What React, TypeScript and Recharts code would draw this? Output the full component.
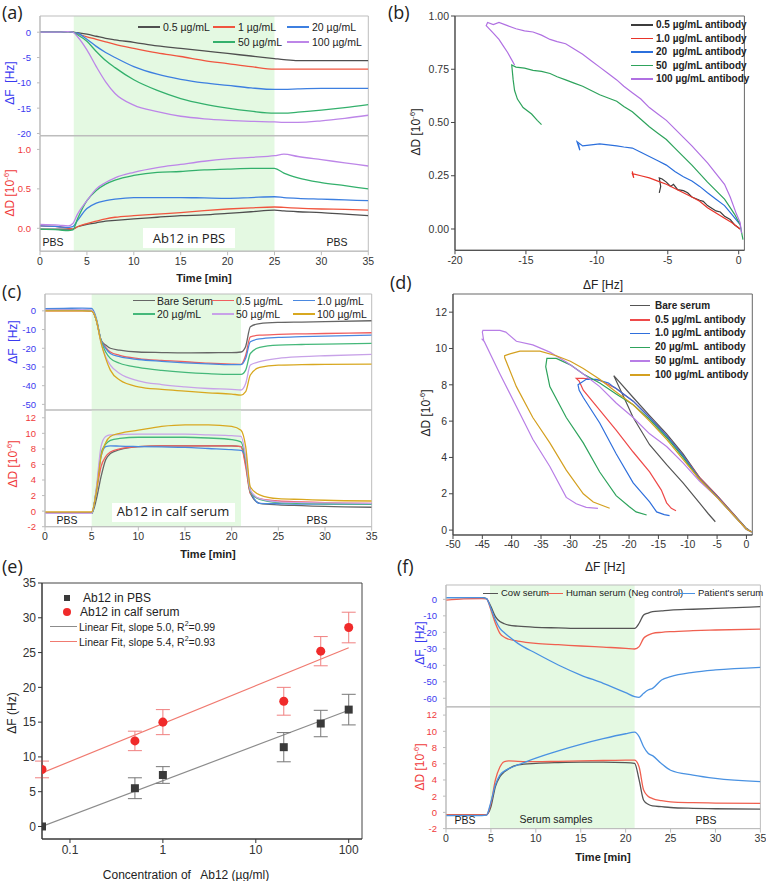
import React from 'react';
import {
  LineChart, Line, XAxis, YAxis, ReferenceArea, ComposedChart, Scatter, ErrorBar, ZAxis,
} from 'recharts';

const FONT = '"Liberation Sans", Arial, Helvetica, sans-serif';
const FRAME = '#bdbdbd';
const SHADE = '#e4f9e2';
const F_BLUE = '#3a3af0';
const D_RED = '#f03a3a';
const PAD = 8;

// ---------- (a) Ab12 in PBS ----------
const timeA = [0, 2, 3, 3.5, 4, 5, 6, 7, 8, 10, 12.5, 15, 17.5, 20, 22.5, 25, 26, 27.5, 30, 32.5, 35];
const dfA05 = [0, 0, 0.1, 0, -0.1, -0.4, -0.8, -1.2, -1.5, -2.0, -2.7, -3.2, -3.7, -4.2, -4.7, -5.2, -5.4, -5.6, -5.6, -5.6, -5.6];
const dfA1 = [0, 0, 0.1, 0, -0.3, -0.9, -1.4, -1.9, -2.4, -3.2, -4.1, -4.8, -5.6, -6.2, -6.8, -7.3, -7.3, -7.3, -7.3, -7.3, -7.3];
const dfA20 = [0, 0, 0.1, 0, -0.2, -1.4, -2.8, -4.0, -5.0, -6.8, -8.3, -9.3, -10.0, -10.5, -11.0, -11.3, -11.3, -11.2, -11.1, -11.1, -11.1];
const dfA50 = [0, 0, 0.1, 0, -0.5, -1.8, -3.8, -5.6, -7.0, -9.4, -11.5, -13.1, -14.2, -15.0, -15.6, -16.0, -16.0, -15.8, -15.4, -14.9, -14.3];
const dfA100 = [0, 0, 0.1, 0, -0.9, -3.5, -6.8, -9.8, -12.1, -14.4, -15.7, -16.6, -17.1, -17.4, -17.6, -17.7, -17.8, -17.8, -17.5, -17.0, -16.4];
const ddA05 = [-0.01, -0.01, -0.01, -0.01, 0.02, 0.05, 0.07, 0.09, 0.1, 0.12, 0.14, 0.16, 0.17, 0.19, 0.21, 0.23, 0.22, 0.21, 0.2, 0.18, 0.16];
const ddA1 = [0.03, 0.02, 0.0, -0.01, 0.02, 0.06, 0.09, 0.12, 0.14, 0.16, 0.18, 0.2, 0.225, 0.245, 0.26, 0.27, 0.265, 0.255, 0.245, 0.24, 0.23];
const ddA20 = [0.03, 0.02, 0.01, 0.02, 0.1, 0.25, 0.32, 0.35, 0.37, 0.39, 0.39, 0.39, 0.385, 0.38, 0.39, 0.4, 0.39, 0.38, 0.37, 0.36, 0.35];
const ddA50 = [-0.01, -0.02, -0.03, -0.02, 0.12, 0.35, 0.48, 0.56, 0.61, 0.67, 0.71, 0.72, 0.74, 0.75, 0.76, 0.76, 0.7, 0.64, 0.58, 0.54, 0.5];
const ddA100 = [0.05, 0.04, 0.03, 0.06, 0.18, 0.35, 0.5, 0.58, 0.64, 0.71, 0.77, 0.81, 0.85, 0.88, 0.9, 0.92, 0.94, 0.91, 0.87, 0.83, 0.79];

// ---------- (b) dD vs dF, PBS ----------
const b05 = [[0.1, 0], [-0.3, 0.02], [-0.6, 0.045], [-1.0, 0.06], [-1.3, 0.08], [-1.6, 0.085], [-2.2, 0.11], [-2.5, 0.13], [-2.75, 0.135], [-3.3, 0.15], [-3.6, 0.17], [-3.9, 0.18], [-4.3, 0.185], [-4.6, 0.21], [-4.8, 0.2], [-5.1, 0.22], [-5.4, 0.235], [-5.6, 0.24], [-5.5, 0.2], [-5.6, 0.17]];
const b1 = [[0.1, 0], [-0.5, 0.03], [-1.0, 0.05], [-1.6, 0.075], [-2.2, 0.1], [-2.75, 0.13], [-3.3, 0.15], [-3.9, 0.17], [-4.5, 0.19], [-5.1, 0.21], [-5.7, 0.225], [-6.3, 0.24], [-6.9, 0.25], [-7.5, 0.26], [-7.4, 0.24], [-7.5, 0.27]];
const b20 = [[0.1, 0.02], [-0.5, 0.07], [-1.0, 0.11], [-1.6, 0.14], [-2.2, 0.17], [-2.75, 0.2], [-3.3, 0.225], [-3.9, 0.245], [-4.5, 0.27], [-5.1, 0.3], [-5.7, 0.32], [-6.3, 0.34], [-6.9, 0.36], [-7.5, 0.38], [-8.1, 0.385], [-8.6, 0.39], [-9.2, 0.395], [-9.8, 0.4], [-10.4, 0.395], [-11.0, 0.39], [-11.4, 0.41], [-11.2, 0.37], [-11.3, 0.4]];
const b50 = [[0.3, -0.05], [0.1, 0.02], [-0.3, 0.07], [-0.6, 0.1], [-1.0, 0.14], [-1.6, 0.18], [-2.2, 0.22], [-2.75, 0.26], [-3.3, 0.3], [-3.9, 0.34], [-4.5, 0.38], [-5.1, 0.42], [-5.7, 0.45], [-6.3, 0.48], [-6.9, 0.515], [-7.5, 0.55], [-8.1, 0.575], [-8.6, 0.6], [-9.2, 0.615], [-9.8, 0.63], [-10.4, 0.65], [-11, 0.67], [-11.6, 0.685], [-12.2, 0.7], [-12.8, 0.715], [-13.3, 0.73], [-13.9, 0.74], [-14.5, 0.745], [-15.1, 0.755], [-15.7, 0.76], [-16.0, 0.77], [-15.9, 0.7], [-15.8, 0.65], [-15.6, 0.61], [-15.2, 0.57], [-14.6, 0.54], [-14.2, 0.51], [-13.9, 0.49]];
const b100 = [[0.2, -0.02], [0.1, 0.03], [-0.16, 0.07], [-0.6, 0.15], [-1.0, 0.21], [-1.6, 0.26], [-2.2, 0.31], [-2.75, 0.35], [-3.3, 0.39], [-3.9, 0.43], [-4.5, 0.47], [-5.1, 0.51], [-5.7, 0.54], [-6.3, 0.57], [-6.9, 0.61], [-7.5, 0.64], [-8.1, 0.67], [-8.6, 0.7], [-9.2, 0.73], [-9.8, 0.76], [-10.4, 0.79], [-11, 0.82], [-11.6, 0.845], [-12.2, 0.87], [-12.8, 0.88], [-13.3, 0.89], [-13.9, 0.91], [-14.5, 0.925], [-15.1, 0.93], [-15.7, 0.94], [-16.3, 0.955], [-16.9, 0.97], [-17.3, 0.96], [-17.7, 0.97], [-17.8, 0.955], [-17.3, 0.92], [-16.9, 0.89], [-16.6, 0.86], [-16.3, 0.83], [-16.05, 0.8], [-15.8, 0.77]];

// ---------- (c) Ab12 in calf serum ----------
const timeC = [0, 2, 4, 5, 5.5, 6, 6.5, 7, 8, 10, 12.5, 15, 17.5, 20, 21, 21.5, 22, 23, 25, 27.5, 30, 35];
const dfCbare = [0.5, 0.5, 0.5, 0.3, -5, -15.6, -18.3, -20, -21, -22, -22.3, -22.5, -22.4, -22.3, -22, -19, -8.5, -6.8, -6.2, -6, -5.8, -5.3];
const dfC05 = [0, 0, 0, -0.2, -5, -15.6, -19.5, -22, -23.8, -25.5, -26.5, -27.2, -28, -28.5, -28.6, -23.7, -13.9, -13, -12.6, -12.3, -12.1, -11.7];
const dfC1 = [1.2, 1.3, 1.5, 1.3, -4, -15.6, -20, -22.8, -24.5, -26, -27, -27.8, -28.4, -28.8, -28.8, -25.4, -16.5, -15, -14.2, -13.8, -13.5, -13];
const dfC20 = [0.3, 0.3, 0.3, 0.1, -5, -16, -22, -25.4, -28, -30.2, -31.8, -32.9, -33.6, -34, -34, -31.7, -22.8, -19.5, -18.3, -18, -17.8, -17.4];
const dfC50 = [0.5, 0.5, 0.6, 0.4, -5, -17, -24.6, -29, -33.5, -37.4, -39.4, -40.6, -41.5, -42, -42.3, -38.8, -29, -27.2, -25.4, -24.5, -24, -23.3];
const dfC100 = [0, 0, 0, -0.2, -5, -17, -25.4, -31.7, -37, -40.6, -42, -42.9, -43.8, -44.5, -45, -43.2, -34.3, -30.2, -29, -28.8, -28.6, -28.5];
const ddCbare = [-0.3, -0.3, -0.3, -0.3, 1.5, 4.4, 6.6, 7.4, 7.9, 8.3, 8.4, 8.4, 8.4, 8.4, 8.3, 6.1, 2.3, 1.0, 0.8, 0.7, 0.6, 0.5];
const ddC05 = [-0.2, -0.2, -0.2, -0.2, 2.5, 5.7, 7.0, 7.6, 8.0, 8.3, 8.4, 8.4, 8.4, 8.4, 8.3, 5.7, 2.3, 1.6, 1.3, 1.2, 1.1, 1.0];
const ddC1 = [-0.3, -0.3, -0.3, -0.3, 2.7, 7.0, 8.3, 8.4, 8.35, 8.3, 8.25, 8.2, 8.05, 7.9, 7.8, 7.0, 2.7, 1.0, 0.95, 0.9, 0.9, 0.9];
const ddC20 = [-0.3, -0.3, -0.3, -0.3, 2.7, 7.4, 8.6, 9.1, 9.35, 9.5, 9.5, 9.5, 9.4, 9.2, 8.9, 6.6, 2.5, 1.5, 1.1, 1.0, 0.95, 0.9];
const ddC50 = [-0.3, -0.3, -0.3, -0.3, 3.0, 8.3, 9.6, 9.8, 9.85, 9.9, 9.9, 9.9, 9.8, 9.7, 9.6, 7.0, 2.7, 1.6, 1.2, 1.1, 1.05, 1.0];
const ddC100 = [-0.1, -0.1, -0.1, -0.1, 2.5, 7.0, 8.8, 9.6, 10.0, 10.4, 10.9, 11.1, 11.1, 10.9, 10.4, 8.3, 3.1, 2.1, 1.6, 1.5, 1.4, 1.3];

// ---------- (d) dD vs dF, calf serum ----------
const dBare = [[0.9, -0.1], [0, 0.1], [-5, 1.9], [-8, 2.9], [-10.8, 4.2], [-13.6, 5.3], [-16.5, 6.3], [-19.3, 7.3], [-22.6, 8.5], [-21, 7.4], [-19.3, 6.2], [-16.5, 4.7], [-13.6, 3.6], [-10.8, 2.6], [-8, 1.5], [-6.5, 0.9], [-5.3, 0.46]];
const d05 = [[0.9, -0.1], [0, 0.05], [-5, 1.9], [-8, 2.9], [-10.8, 4.1], [-13.6, 5.2], [-16.5, 6.2], [-19.3, 7.1], [-22.2, 7.8], [-25, 8.25], [-27.8, 8.35], [-29, 8.35], [-28.5, 8.2], [-27.8, 7.7], [-25, 6.6], [-22.2, 5.5], [-19.3, 4.3], [-16.5, 3.2], [-14.5, 2.2], [-13.6, 1.5], [-12.8, 1.2], [-12, 1.06]];
const d1 = [[0.9, -0.1], [0, 0.05], [-5, 1.85], [-8, 2.85], [-10.8, 4.1], [-13.6, 5.2], [-16.5, 6.2], [-19.3, 7.1], [-22.2, 7.8], [-22.7, 7.9], [-23.5, 8.1], [-25.6, 8.3], [-27.3, 8.3], [-28.7, 8.0], [-28.5, 7.7], [-27.8, 7.3], [-25, 5.9], [-22.2, 4.2], [-19.3, 2.6], [-16.5, 1.55], [-15.3, 1.0], [-14, 0.85], [-13.1, 0.8]];
const d20 = [[0.9, -0.1], [0, 0.05], [-5, 1.8], [-8, 2.8], [-10.8, 4.0], [-13.6, 5.1], [-16.5, 6.1], [-19.3, 6.9], [-22.2, 7.5], [-25, 8.1], [-27.8, 8.6], [-30, 9.1], [-32.4, 9.45], [-34, 9.45], [-34.2, 9.0], [-33.5, 7.9], [-30.7, 6.2], [-27.8, 4.8], [-25, 3.2], [-22.2, 1.9], [-20, 1.3], [-18.8, 1.0], [-17, 0.83]];
const d50 = [[0.9, -0.1], [0, 0.05], [-5, 1.8], [-8, 2.7], [-10.8, 3.7], [-13.6, 4.6], [-16.5, 5.3], [-19.3, 6.2], [-22.2, 7.0], [-25, 7.9], [-27.8, 8.6], [-30.7, 9.25], [-33.5, 9.8], [-36.4, 10.2], [-39.2, 10.4], [-41, 10.9], [-42, 11.0], [-44.9, 11.0], [-45, 10.9], [-44.8, 10.5], [-45, 10.5], [-44.7, 10.4], [-42, 8.6], [-39.2, 6.8], [-36.4, 5.0], [-33.5, 3.5], [-30.7, 1.8], [-29, 1.45], [-27.3, 1.25], [-25.3, 1.2]];
const d100 = [[0.9, -0.1], [0, 0.05], [-5, 1.8], [-8, 2.8], [-10.8, 3.9], [-13.6, 5.0], [-16.5, 6.0], [-19.3, 6.9], [-22.2, 7.6], [-25, 8.3], [-27.8, 8.9], [-30, 9.3], [-32.4, 9.6], [-35.2, 9.85], [-38.6, 9.85], [-40.3, 9.7], [-40.8, 9.65], [-41.2, 9.6], [-41.2, 9.5], [-39.2, 7.9], [-36.4, 6.2], [-33.5, 4.8], [-30.7, 3.3], [-27.8, 2.0], [-26.1, 1.55], [-23.3, 1.2]];

// ---------- (e) calibration ----------
const concE = [0.05, 0.5, 1, 20, 50, 100];
const pbsE = [0, 5.5, 7.4, 11.4, 14.8, 16.8];
const pbsErrE = [0, 1.5, 1.2, 2.1, 1.9, 2.2];
const serumE = [8.2, 12.3, 15.0, 18.0, 25.2, 28.6];
const serumErrE = [1.2, 1.4, 1.8, 2.0, 2.1, 2.2];
const fitConc = [0.05, 100];
const fitPbs = [0, 16.7];
const fitSerum = [7.7, 25.7];

// ---------- (f) serum samples ----------
const timeF = [0, 2, 4, 4.5, 5, 5.5, 6, 6.5, 7, 8, 10, 12.5, 15, 17.5, 20, 21, 21.5, 22, 22.5, 23, 24, 25, 27.5, 30, 35];
const dfFcow = [1, 1, 1, 0.5, -4.4, -10.5, -13.5, -14.8, -15.6, -16.3, -17, -17.3, -17.6, -17.6, -17.6, -17.6, -14.5, -9.5, -8.3, -7.5, -7, -6.5, -6, -5.5, -4.4];
const dfFhuman = [-0.5, 0.3, 0.5, 0.3, -6.5, -14.5, -20.6, -23, -24.2, -25.3, -26.7, -27.5, -28.3, -29, -29.7, -30.1, -28.7, -23.6, -21.7, -20.6, -20, -19.6, -19, -18.6, -18];
const dfFpatient = [1, 1, 1, 0.5, -5.5, -12.5, -17.6, -20.3, -22.6, -26.7, -32.7, -39.8, -45.9, -50.9, -56.6, -59, -59.4, -57, -55, -54, -48.9, -46.9, -44.3, -42.8, -41.2];
const ddFcow = [-0.3, -0.3, -0.3, -0.3, 0.7, 3.2, 4.4, 5.0, 5.4, 5.85, 6.05, 6.15, 6.2, 6.2, 6.15, 6.05, 4.0, 1.5, 1.0, 0.8, 0.7, 0.6, 0.5, 0.45, 0.4];
const ddFhuman = [-0.3, -0.3, -0.3, -0.3, 1.1, 4.0, 5.6, 6.25, 6.35, 6.3, 6.25, 6.3, 6.35, 6.4, 6.45, 6.45, 5.6, 2.75, 2.0, 1.7, 1.45, 1.3, 1.2, 1.15, 1.1];
const ddFpatient = [-0.4, -0.4, -0.4, -0.35, 1.3, 3.4, 4.6, 5.1, 5.4, 5.85, 6.7, 7.6, 8.4, 9.1, 9.7, 9.9, 9.35, 8.1, 7.3, 7.0, 6.0, 5.2, 4.6, 4.2, 3.8];

const timeTicks = [0, 5, 10, 15, 20, 25, 30, 35];

type Ser = { key: string; color: string; name: string; df: number[]; dd: number[] };

const seriesA: Ser[] = [
  { key: 's05', name: '0.5 µg/mL', color: '#4f4f4f', df: dfA05, dd: ddA05 },
  { key: 's1', name: '1 µg/mL', color: '#f0553f', df: dfA1, dd: ddA1 },
  { key: 's20', name: '20 µg/mL', color: '#3d7fe0', df: dfA20, dd: ddA20 },
  { key: 's50', name: '50 µg/mL', color: '#33b06c', df: dfA50, dd: ddA50 },
  { key: 's100', name: '100 µg/mL', color: '#bd86e8', df: dfA100, dd: ddA100 },
];
const seriesC: Ser[] = [
  { key: 'bare', name: 'Bare Serum', color: '#666666', df: dfCbare, dd: ddCbare },
  { key: 'c05', name: '0.5 µg/mL', color: '#f05f5f', df: dfC05, dd: ddC05 },
  { key: 'c1', name: '1.0 µg/mL', color: '#4a88e0', df: dfC1, dd: ddC1 },
  { key: 'c20', name: '20 µg/mL', color: '#45b87a', df: dfC20, dd: ddC20 },
  { key: 'c50', name: '50 µg/mL', color: '#c8a2e8', df: dfC50, dd: ddC50 },
  { key: 'c100', name: '100 µg/mL', color: '#d8a820', df: dfC100, dd: ddC100 },
];
const seriesF: Ser[] = [
  { key: 'cow', name: 'Cow serum', color: '#555555', df: dfFcow, dd: ddFcow },
  { key: 'human', name: 'Human serum (Neg control)', color: '#f06050', df: dfFhuman, dd: ddFhuman },
  { key: 'patient', name: "Patient's serum", color: '#4a92e2', df: dfFpatient, dd: ddFpatient },
];

const rows = (times: number[], ser: Ser[], which: 'df' | 'dd') =>
  times.map((t, i) => {
    const r: Record<string, number> = { t };
    ser.forEach((s) => { r[s.key] = s[which][i]; });
    return r;
  });

const pairs = (p: number[][]) => p.map(([x, y]) => ({ x, y }));

const loopB = [
  { name: '0.5 µg/mL antibody', color: '#3c3c3c', pts: b05 },
  { name: '1.0 µg/mL antibody', color: '#e8342a', pts: b1 },
  { name: '20  µg/mL antibody', color: '#2b6fdc', pts: b20 },
  { name: '50  µg/mL antibody', color: '#2ea35c', pts: b50 },
  { name: '100 µg/mL antibody', color: '#b070e2', pts: b100 },
];
const loopD = [
  { name: 'Bare serum', color: '#555555', pts: dBare },
  { name: '0.5 µg/mL antibody', color: '#ee4a4a', pts: d05 },
  { name: '1.0 µg/mL antibody', color: '#2f6fdc', pts: d1 },
  { name: '20 µg/mL  antibody', color: '#2ea35c', pts: d20 },
  { name: '50 µg/mL  antibody', color: '#b87ee6', pts: d50 },
  { name: '100 µg/mL antibody', color: '#d4a020', pts: d100 },
];

const T = ({ x, y, s = 11, c = '#222', b = false, ctr = false, rot = false, f = FONT, children }: any) => (
  <div
    style={{
      position: 'absolute', left: x, top: y, fontSize: s, color: c, fontFamily: f,
      fontWeight: b ? 'bold' : 'normal', whiteSpace: 'pre', lineHeight: 1.2,
      transform: `translate(${ctr ? '-50%' : '0'}, -50%)${rot ? ' rotate(-90deg)' : ''}`,
    }}
  >
    {children}
  </div>
);

const Seg = ({ x, y, w, c }: any) => (
  <div style={{ position: 'absolute', left: x, top: y - 0.75, width: w, height: 1.5, background: c }} />
);

const TracePanel = ({ x0, x1, yTop, yMid, yBot, times, ser, fDom, fTicks, dDom, dTicks, shade, dFmt }: any) => {
  const yw = 40;
  const w = yw + (x1 - x0) + PAD;
  const lines = ser.map((s: Ser) => (
    <Line key={s.key} dataKey={s.key} stroke={s.color} strokeWidth={1.3} dot={false} type="monotone" isAnimationActive={false} />
  ));
  return (
    <>
      <div style={{ position: 'absolute', left: x0 - yw, top: yTop - PAD }}>
        <LineChart width={w} height={yMid - yTop + PAD + 6} data={rows(times, ser, 'df')} margin={{ top: PAD, right: PAD, bottom: 6, left: 0 }}>
          <XAxis dataKey="t" type="number" domain={[0, 35]} ticks={timeTicks} hide allowDataOverflow />
          <YAxis type="number" domain={fDom} ticks={fTicks} interval={0} allowDataOverflow width={yw} tickSize={3} tickMargin={6}
            stroke={FRAME} tick={{ fontSize: 9.5, fill: F_BLUE }} />
          <ReferenceArea x1={shade[0]} x2={shade[1]} y1={fDom[0]} y2={fDom[1]} fill={SHADE} fillOpacity={1} strokeOpacity={0} />
          {lines}
          <ReferenceArea x1={0} x2={35} y1={fDom[0]} y2={fDom[1]} fill="none" stroke={FRAME} />
        </LineChart>
      </div>
      <div style={{ position: 'absolute', left: x0 - yw, top: yMid - 4 }}>
        <LineChart width={w} height={yBot - yMid + 4 + 22} data={rows(times, ser, 'dd')} margin={{ top: 4, right: PAD, bottom: 0, left: 0 }}>
          <XAxis dataKey="t" type="number" domain={[0, 35]} ticks={timeTicks} interval={0} allowDataOverflow height={22} tickSize={4}
            stroke={FRAME} tick={{ fontSize: 10.5, fill: '#333' }} />
          <YAxis type="number" domain={dDom} ticks={dTicks} interval={0} allowDataOverflow width={yw} tickSize={3} tickMargin={6}
            stroke={FRAME} tick={{ fontSize: 9.5, fill: D_RED }} tickFormatter={dFmt} />
          <ReferenceArea x1={shade[0]} x2={shade[1]} y1={dDom[0]} y2={dDom[1]} fill={SHADE} fillOpacity={1} strokeOpacity={0} />
          {lines}
          <ReferenceArea x1={0} x2={35} y1={dDom[0]} y2={dDom[1]} fill="none" stroke={FRAME} />
        </LineChart>
      </div>
    </>
  );
};

const LoopPanel = ({ x0, x1, y0, y1, data, xDom, xTicks, yDom, yTicks, yFmt }: any) => {
  const yw = 40;
  return (
    <div style={{ position: 'absolute', left: x0 - yw, top: y0 - PAD }}>
      <LineChart width={yw + (x1 - x0) + PAD} height={y1 - y0 + PAD + 24} margin={{ top: PAD, right: PAD, bottom: 0, left: 0 }}>
        <XAxis dataKey="x" type="number" domain={xDom} ticks={xTicks} interval={0} allowDataOverflow height={24} tickSize={4}
          stroke="#444" tick={{ fontSize: 10.5, fill: '#333' }} />
        <YAxis dataKey="y" type="number" domain={yDom} ticks={yTicks} interval={0} allowDataOverflow width={yw} tickSize={4}
          stroke="#444" tick={{ fontSize: 10.5, fill: '#333' }} tickFormatter={yFmt} />
        {data.map((s: any) => (
          <Line key={s.name} data={pairs(s.pts)} dataKey="y" stroke={s.color} strokeWidth={1.2} dot={false} type="linear" isAnimationActive={false} />
        ))}
        <ReferenceArea x1={xDom[0]} x2={xDom[1]} y1={yDom[0]} y2={yDom[1]} fill="none" stroke="#666" />
      </LineChart>
    </div>
  );
};

const pbsRows = concE.map((c, i) => ({ c, y: pbsE[i], err: pbsErrE[i] }));
const serumRows = concE.map((c, i) => ({ c, y: serumE[i], err: serumErrE[i] }));
const fitPbsRows = fitConc.map((c, i) => ({ c, y: fitPbs[i] }));
const fitSerumRows = fitConc.map((c, i) => ({ c, y: fitSerum[i] }));

const CalibPanel = () => {
  const x0 = 41.7, x1 = 361.7, y0 = 583.3, y1 = 839.3, yw = 36;
  const xDom = [0.05, 139];
  const yDom = [-1.8, 35];
  return (
    <div style={{ position: 'absolute', left: x0 - yw, top: y0 - PAD }}>
      <ComposedChart width={yw + (x1 - x0) + PAD} height={y1 - y0 + PAD + 26} margin={{ top: PAD, right: PAD, bottom: 0, left: 0 }}>
        <XAxis dataKey="c" type="number" scale="log" domain={xDom} ticks={[0.1, 1, 10, 100]} interval={0} allowDataOverflow height={26}
          tickSize={4} stroke="#333" tick={{ fontSize: 12, fill: '#333' }} tickFormatter={(v: number) => String(v)} />
        <YAxis dataKey="y" type="number" domain={yDom} ticks={[0, 5, 10, 15, 20, 25, 30, 35]} interval={0} allowDataOverflow width={yw}
          tickSize={4} stroke="#333" tick={{ fontSize: 12, fill: '#333' }} />
        <ZAxis range={[64, 64]} />
        <Line data={fitPbsRows} dataKey="y" stroke="#8c8c8c" strokeWidth={1.2} dot={false} type="linear" isAnimationActive={false} />
        <Line data={fitSerumRows} dataKey="y" stroke="#f07a70" strokeWidth={1.2} dot={false} type="linear" isAnimationActive={false} />
        <Scatter data={pbsRows} dataKey="y" fill="#3a3a3a" shape="square" isAnimationActive={false}>
          <ErrorBar dataKey="err" direction="y" width={7} stroke="#777" strokeWidth={1} />
        </Scatter>
        <Scatter data={serumRows} dataKey="y" fill="#f02a2a" shape="circle" isAnimationActive={false}>
          <ErrorBar dataKey="err" direction="y" width={7} stroke="#f08080" strokeWidth={1} />
        </Scatter>
        <ReferenceArea x1={xDom[0]} x2={xDom[1]} y1={yDom[0]} y2={yDom[1]} fill="none" stroke="#444" />
      </ComposedChart>
    </div>
  );
};

const fmt1 = (v: number) => v.toFixed(1);
const fmt2 = (v: number) => v.toFixed(2);
const PL = '"Open Sans", "Liberation Sans", sans-serif';

export default function App() {
  return (
    <div style={{ position: 'absolute', left: 0, top: 0, width: 766, height: 881, background: '#fff', fontFamily: FONT, overflow: 'hidden' }}>
      {/* (a) */}
      <TracePanel x0={40} x1={368.3} yTop={16} yMid={135.5} yBot={250.7} times={timeA} ser={seriesA}
        fDom={[-20.4, 3.2]} fTicks={[-20, -15, -10, -5, 0]} dDom={[-0.29, 1.17]} dTicks={[0, 0.5, 1]} dFmt={fmt1} shade={[3.6, 25]} />
      <div style={{ position: 'absolute', left: 143, top: 228, width: 92, height: 20, background: '#fff' }} />
      <T x={189} y={239} s={13} ctr f={PL}>Ab12 in PBS</T>
      <T x={53} y={242} s={10.5} ctr>PBS</T>
      <T x={337} y={242} s={10.5} ctr>PBS</T>
      {seriesA.map((s, i) => {
        const pos = [[138, 27], [213, 27], [287, 27], [213, 42], [287, 42]][i];
        return (
          <React.Fragment key={s.key}>
            <Seg x={pos[0]} y={pos[1]} w={22} c={s.color} />
            <T x={pos[0] + 25} y={pos[1]} s={10.5}>{s.name}</T>
          </React.Fragment>
        );
      })}
      <T x={10} y={83} s={12} c={F_BLUE} ctr rot>ΔF  [Hz]</T>
      <T x={10} y={193} s={12} c={D_RED} ctr rot>ΔD [10<sup style={{ fontSize: 8 }}>-6</sup>]</T>
      <T x={204} y={279} s={11} b ctr>Time [min]</T>
      <T x={2} y={13} s={18} f={PL}>(a)</T>

      {/* (b) */}
      <LoopPanel x0={455.3} x1={744.7} y0={15.7} y1={250} data={loopB} xDom={[-20, 0.4]} xTicks={[-20, -15, -10, -5, 0]}
        yDom={[-0.1, 1]} yTicks={[0, 0.25, 0.5, 0.75, 1]} yFmt={fmt2} />
      {loopB.map((s, i) => (
        <React.Fragment key={s.name}>
          <Seg x={631} y={25 + i * 13.5} w={22} c={s.color} />
          <T x={656} y={25 + i * 13.5} s={10} b>{s.name}</T>
        </React.Fragment>
      ))}
      <T x={416} y={132} s={12} ctr rot>ΔD [10<sup style={{ fontSize: 8 }}>-6</sup>]</T>
      <T x={603} y={285} s={12} ctr>ΔF [Hz]</T>
      <T x={388} y={13} s={18} f={PL}>(b)</T>

      {/* (c) */}
      <TracePanel x0={45} x1={371.7} yTop={294} yMid={410} yBot={526.7} times={timeC} ser={seriesC}
        fDom={[-53, 9]} fTicks={[-50, -40, -30, -20, -10, 0]} dDom={[-2, 13]} dTicks={[-2, 0, 2, 4, 6, 8, 10, 12]} shade={[5, 21]} />
      <div style={{ position: 'absolute', left: 112, top: 503, width: 123, height: 19, background: '#fff' }} />
      <T x={173} y={512} s={13} ctr f={PL}>Ab12 in calf serum</T>
      <T x={67} y={520} s={10.5} ctr>PBS</T>
      <T x={317} y={520} s={10.5} ctr>PBS</T>
      {seriesC.map((s, i) => {
        const pos = [[133, 300.7], [212, 300.7], [293, 300.7], [133, 314], [212, 314], [293, 314]][i];
        return (
          <React.Fragment key={s.key}>
            <Seg x={pos[0]} y={pos[1]} w={22} c={s.color} />
            <T x={pos[0] + 24} y={pos[1]} s={10.5}>{s.name}</T>
          </React.Fragment>
        );
      })}
      <T x={13} y={342} s={12} c={F_BLUE} ctr rot>ΔF  [Hz]</T>
      <T x={13} y={464} s={12} c={D_RED} ctr rot>ΔD [10<sup style={{ fontSize: 8 }}>-6</sup>]</T>
      <T x={208} y={555} s={11} b ctr>Time [min]</T>
      <T x={2} y={292} s={18} f={PL}>(c)</T>

      {/* (d) */}
      <LoopPanel x0={453} x1={752.3} y0={294} y1={535} data={loopD} xDom={[-50, 1]}
        xTicks={[-50, -45, -40, -35, -30, -25, -20, -15, -10, -5, 0]} yDom={[-0.27, 13]} yTicks={[0, 2, 4, 6, 8, 10, 12]} />
      {loopD.map((s, i) => (
        <React.Fragment key={s.name}>
          <Seg x={630} y={[305.7, 320, 333.3, 347.3, 361, 375][i]} w={20} c={s.color} />
          <T x={655} y={[305.7, 320, 333.3, 347.3, 361, 375][i]} s={10} b>{s.name}</T>
        </React.Fragment>
      ))}
      <T x={426} y={413} s={12} ctr rot>ΔD [10<sup style={{ fontSize: 8 }}>-6</sup>]</T>
      <T x={605} y={567} s={12} ctr>ΔF [Hz]</T>
      <T x={390} y={283} s={18} f={PL}>(d)</T>

      {/* (e) */}
      <CalibPanel />
      <div style={{ position: 'absolute', left: 64, top: 594.7, width: 6, height: 6, background: '#3a3a3a' }} />
      <T x={83} y={597.7} s={12}>Ab12 in PBS</T>
      <div style={{ position: 'absolute', left: 63, top: 607.7, width: 8, height: 8, borderRadius: 4, background: '#f02a2a' }} />
      <T x={80} y={611.7} s={12}>Ab12 in calf serum</T>
      <Seg x={50} y={626.7} w={27} c="#8c8c8c" />
      <T x={79} y={626.7} s={10.5}>Linear Fit, slope 5.0, R<sup style={{ fontSize: 7 }}>2</sup>=0.99</T>
      <Seg x={50} y={641.7} w={27} c="#f07a70" />
      <T x={79} y={641.7} s={10.5}>Linear Fit, slope 5.4, R<sup style={{ fontSize: 7 }}>2</sup>=0.93</T>
      <T x={12} y={713} s={12} ctr rot>ΔF (Hz)</T>
      <T x={186} y={875} s={12} ctr>Concentration of   Ab12 (µg/ml)</T>
      <T x={2} y={567} s={18} f={PL}>(e)</T>

      {/* (f) */}
      <TracePanel x0={446.3} x1={760.7} yTop={585} yMid={706.7} yBot={828.3} times={timeF} ser={seriesF}
        fDom={[-65.1, 8.7]} fTicks={[-60, -50, -40, -30, -20, -10, 0]} dDom={[-2, 13]} dTicks={[-2, 0, 2, 4, 6, 8, 10, 12]} shade={[4.9, 21]} />
      {seriesF.map((s, i) => {
        const pos = [[483, 501], [546, 566], [676, 698]][i];
        return (
          <React.Fragment key={s.key}>
            <Seg x={pos[0]} y={593.3} w={pos[1] - pos[0] - 3} c={s.color} />
            <T x={pos[1]} y={593.3} s={9.5}>{s.name}</T>
          </React.Fragment>
        );
      })}
      <T x={465} y={820} s={10.5} ctr>PBS</T>
      <T x={556} y={819} s={10.5} ctr>Serum samples</T>
      <T x={706} y={820} s={10.5} ctr>PBS</T>
      <T x={420} y={643} s={12} c={F_BLUE} ctr rot>ΔF  [Hz]</T>
      <T x={420} y={767} s={12} c={D_RED} ctr rot>ΔD [10<sup style={{ fontSize: 8 }}>-6</sup>]</T>
      <T x={603} y={858} s={11} b ctr>Time [min]</T>
      <T x={397} y={567} s={18} f={PL}>(f)</T>
    </div>
  );
}
